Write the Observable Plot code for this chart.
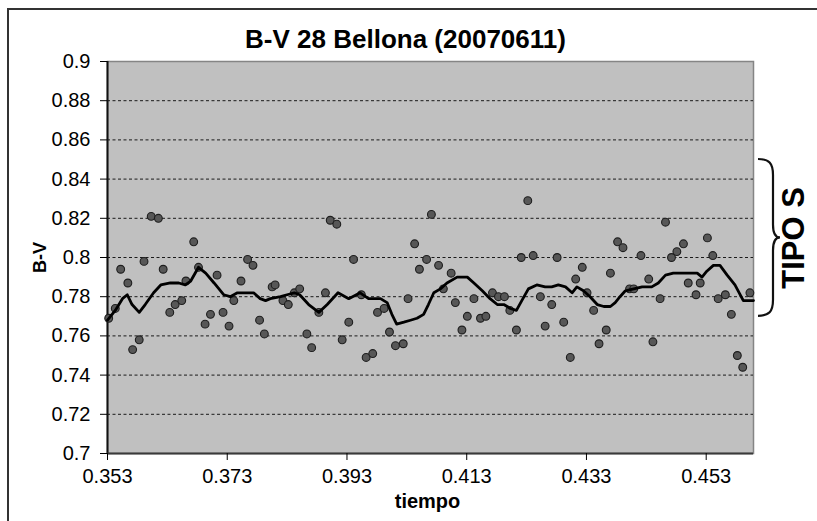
<!DOCTYPE html>
<html>
<head>
<meta charset="utf-8">
<script src="https://cdn.jsdelivr.net/npm/d3@7"></script>
<script src="https://cdn.jsdelivr.net/npm/@observablehq/plot@0.6"></script>
<style>
  body { margin: 0; background: #ffffff; }
  #chart svg { display: block; }
</style>
</head>
<body>
<div id="chart"></div>
<script>
// Labels
const title = "B-V 28 Bellona (20070611)";
const xLabel = "tiempo";
const yLabel = "B-V";
const typeLabel = "TIPO S";

// Axis ticks
const xTicks = [0.353, 0.373, 0.393, 0.413, 0.433, 0.453];
const yTicks = [0.7, 0.72, 0.74, 0.76, 0.78, 0.8, 0.82, 0.84, 0.86, 0.88, 0.9];

// Individual B-V measurements
const pointTime = [
  0.3532, 0.3543, 0.3552, 0.3564, 0.3572, 0.3583, 0.3591, 0.3603, 0.3615, 0.3623,
  0.3634, 0.3643, 0.3654, 0.3661, 0.3674, 0.3682, 0.3693, 0.3702, 0.3713, 0.3723,
  0.3733, 0.3741, 0.3753, 0.3764, 0.3773, 0.3784, 0.3792, 0.3805, 0.3810, 0.3823,
  0.3832, 0.3842, 0.3851, 0.3863, 0.3871, 0.3883, 0.3894, 0.3902, 0.3913, 0.3922,
  0.3933, 0.3941, 0.3954, 0.3962, 0.3973, 0.3981, 0.3992, 0.4001, 0.4011, 0.4024,
  0.4032, 0.4043, 0.4051, 0.4063, 0.4071, 0.4083, 0.4091, 0.4104, 0.4111, 0.4122,
  0.4131, 0.4142, 0.4153, 0.4162, 0.4173, 0.4183, 0.4193, 0.4202, 0.4213, 0.4221,
  0.4232, 0.4241, 0.4253, 0.4261, 0.4272, 0.4281, 0.4292, 0.4303, 0.4312, 0.4323,
  0.4331, 0.4342, 0.4351, 0.4363, 0.4370, 0.4382, 0.4391, 0.4402, 0.4409, 0.4421,
  0.4434, 0.4441, 0.4453, 0.4462, 0.4472, 0.4481, 0.4492, 0.4500, 0.4513, 0.4520,
  0.4532, 0.4541, 0.4550, 0.4562, 0.4572, 0.4582, 0.4591, 0.4603
];
const pointBV = [
  0.769, 0.774, 0.794, 0.787, 0.753, 0.758, 0.798, 0.821, 0.820, 0.794,
  0.772, 0.776, 0.778, 0.788, 0.808, 0.795, 0.766, 0.771, 0.791, 0.772,
  0.765, 0.778, 0.788, 0.799, 0.796, 0.768, 0.761, 0.785, 0.786, 0.778,
  0.776, 0.782, 0.784, 0.761, 0.754, 0.772, 0.782, 0.819, 0.817, 0.758,
  0.767, 0.799, 0.781, 0.749, 0.751, 0.772, 0.774, 0.762, 0.755, 0.756,
  0.779, 0.807, 0.794, 0.799, 0.822, 0.796, 0.784, 0.792, 0.777, 0.763,
  0.770, 0.779, 0.769, 0.770, 0.782, 0.780, 0.780, 0.773, 0.763, 0.800,
  0.829, 0.801, 0.780, 0.765, 0.776, 0.800, 0.767, 0.749, 0.789, 0.795,
  0.782, 0.773, 0.756, 0.763, 0.792, 0.808, 0.805, 0.784, 0.784, 0.801,
  0.789, 0.757, 0.779, 0.818, 0.800, 0.803, 0.807, 0.787, 0.781, 0.787,
  0.810, 0.801, 0.779, 0.781, 0.771, 0.750, 0.744, 0.782
];

// Running mean of B-V
const meanTime = [
  0.3530, 0.3543, 0.3555, 0.3563, 0.3571, 0.3583, 0.3593, 0.3607, 0.3619, 0.3635,
  0.3649, 0.3660, 0.3669, 0.3682, 0.3694, 0.3708, 0.3724, 0.3735, 0.3747, 0.3760,
  0.3774, 0.3785, 0.3794, 0.3802, 0.3819, 0.3830, 0.3842, 0.3851, 0.3866, 0.3883,
  0.3897, 0.3915, 0.3933, 0.3952, 0.3966, 0.3986, 0.3997, 0.4005, 0.4013, 0.4025,
  0.4036, 0.4047, 0.4058, 0.4066, 0.4075, 0.4086, 0.4097, 0.4114, 0.4131, 0.4142,
  0.4156, 0.4169, 0.4181, 0.4192, 0.4203, 0.4213, 0.4222, 0.4233, 0.4247, 0.4261,
  0.4272, 0.4283, 0.4295, 0.4306, 0.4314, 0.4325, 0.4336, 0.4348, 0.4359, 0.4370,
  0.4378, 0.4386, 0.4395, 0.4409, 0.4423, 0.4439, 0.4450, 0.4462, 0.4475, 0.4489,
  0.4503, 0.4515, 0.4523, 0.4531, 0.4542, 0.4553, 0.4565, 0.4578, 0.4592, 0.4609
];
const meanBV = [
  0.768, 0.773, 0.779, 0.781, 0.776, 0.772, 0.776, 0.782, 0.786, 0.787,
  0.787, 0.786, 0.788, 0.795, 0.792, 0.787, 0.781, 0.780, 0.782, 0.782,
  0.782, 0.779, 0.778, 0.779, 0.780, 0.781, 0.782, 0.781, 0.776, 0.772,
  0.776, 0.782, 0.779, 0.782, 0.779, 0.779, 0.777, 0.771, 0.766, 0.767,
  0.768, 0.769, 0.771, 0.776, 0.782, 0.784, 0.787, 0.790, 0.790, 0.787,
  0.783, 0.779, 0.776, 0.776, 0.774, 0.773, 0.778, 0.784, 0.786, 0.785,
  0.785, 0.786, 0.785, 0.782, 0.785, 0.783, 0.780, 0.776, 0.775, 0.775,
  0.777, 0.780, 0.783, 0.784, 0.785, 0.785, 0.787, 0.791, 0.792, 0.792,
  0.792, 0.792, 0.790, 0.793, 0.796, 0.796, 0.791, 0.786, 0.778, 0.778
];

// Range of B-V for the S-type classification
const typeRange = [0.77, 0.85];
const typeCentre = 0.81;

const points = pointTime.map((t, i) => ({t, bv: pointBV[i]}));
const mean = meanTime.map((t, i) => ({t, bv: meanBV[i]}));
const gridValues = yTicks.filter(v => v > yTicks[0] && v < yTicks[yTicks.length - 1]);

const font = "'Liberation Sans', Arial, Helvetica, sans-serif";

// Curly brace beside the plot spanning the S-type range
function typeBrace(index, scales, values, dims) {
  const x0 = dims.width - dims.marginRight;
  const yT = scales.y(typeRange[1]);
  const yB = scales.y(typeRange[0]);
  const yM = scales.y(typeCentre);
  const a = x0 + 5, s = x0 + 20, p = x0 + 27;
  const d = `M${a},${yT} C${s - 4},${yT} ${s},${yT + 4} ${s},${yT + 16}`
    + ` L${s},${yM - 13} C${s},${yM - 4} ${s + 3},${yM} ${p},${yM}`
    + ` C${s + 3},${yM} ${s},${yM + 4} ${s},${yM + 13}`
    + ` L${s},${yB - 16} C${s},${yB - 4} ${s - 4},${yB} ${a},${yB}`;
  return d3.create("svg:path")
    .attr("d", d)
    .attr("fill", "none")
    .attr("stroke", "#111")
    .attr("stroke-width", 2.2)
    .node();
}

// Outer chart border (top and left edges)
function chartBorder(index, scales, values, dims) {
  return d3.create("svg:path")
    .attr("d", `M8,${dims.height}V9H${dims.width}`)
    .attr("fill", "none")
    .attr("stroke", "#333")
    .attr("stroke-width", 2)
    .node();
}

const chart = Plot.plot({
  width: 817,
  height: 521,
  marginLeft: 107,
  marginRight: 64,
  marginTop: 61,
  marginBottom: 68,
  style: {fontFamily: font, color: "#000", background: "#fff", overflow: "visible"},
  x: {domain: [0.353, 0.4609], label: null},
  y: {domain: [0.7, 0.9], label: null},
  marks: [
    chartBorder,
    Plot.frame({fill: "#c0c0c0", stroke: "#858585", strokeWidth: 1.5}),
    Plot.ruleY(gridValues, {stroke: "#1a1a1a", strokeWidth: 1, strokeDasharray: "3,2.5"}),
    Plot.ruleX([0.353], {stroke: "#111", strokeWidth: 2}),
    Plot.ruleY([0.7], {stroke: "#3a3a3a", strokeWidth: 2}),
    Plot.axisY({ticks: yTicks, tickSize: 7, tickPadding: 10, fontSize: 20,
      tickFormat: d => String(+d.toFixed(2)), label: null}),
    Plot.axisX({ticks: xTicks, tickSize: 7, tickPadding: 8, fontSize: 20,
      tickFormat: d3.format(".3f"), label: null}),
    Plot.dot(points, {x: "t", y: "bv", r: 3.9, fill: "#575757", stroke: "#1e1e1e", strokeWidth: 1.1}),
    Plot.line(mean, {x: "t", y: "bv", stroke: "#000", strokeWidth: 2.8, strokeLinejoin: "round"}),
    Plot.text([title], {frameAnchor: "top", lineAnchor: "bottom", dx: -25, dy: -14,
      fontSize: 26, fontWeight: "bold", fill: "#000"}),
    Plot.text([xLabel], {frameAnchor: "bottom", lineAnchor: "bottom", dx: -3, dy: 54,
      fontSize: 20, fontWeight: "bold", fill: "#000"}),
    Plot.text([yLabel], {frameAnchor: "left", textAnchor: "middle", rotate: -90, dx: -67,
      fontSize: 18, fontWeight: "bold", fill: "#000"}),
    typeBrace,
    Plot.text([typeLabel], {y: () => typeCentre, frameAnchor: "right", textAnchor: "middle",
      rotate: -90, dx: 41, fontSize: 31, fontWeight: "bold", fill: "#000"})
  ]
});

document.getElementById("chart").appendChild(chart);
</script>
</body>
</html>
